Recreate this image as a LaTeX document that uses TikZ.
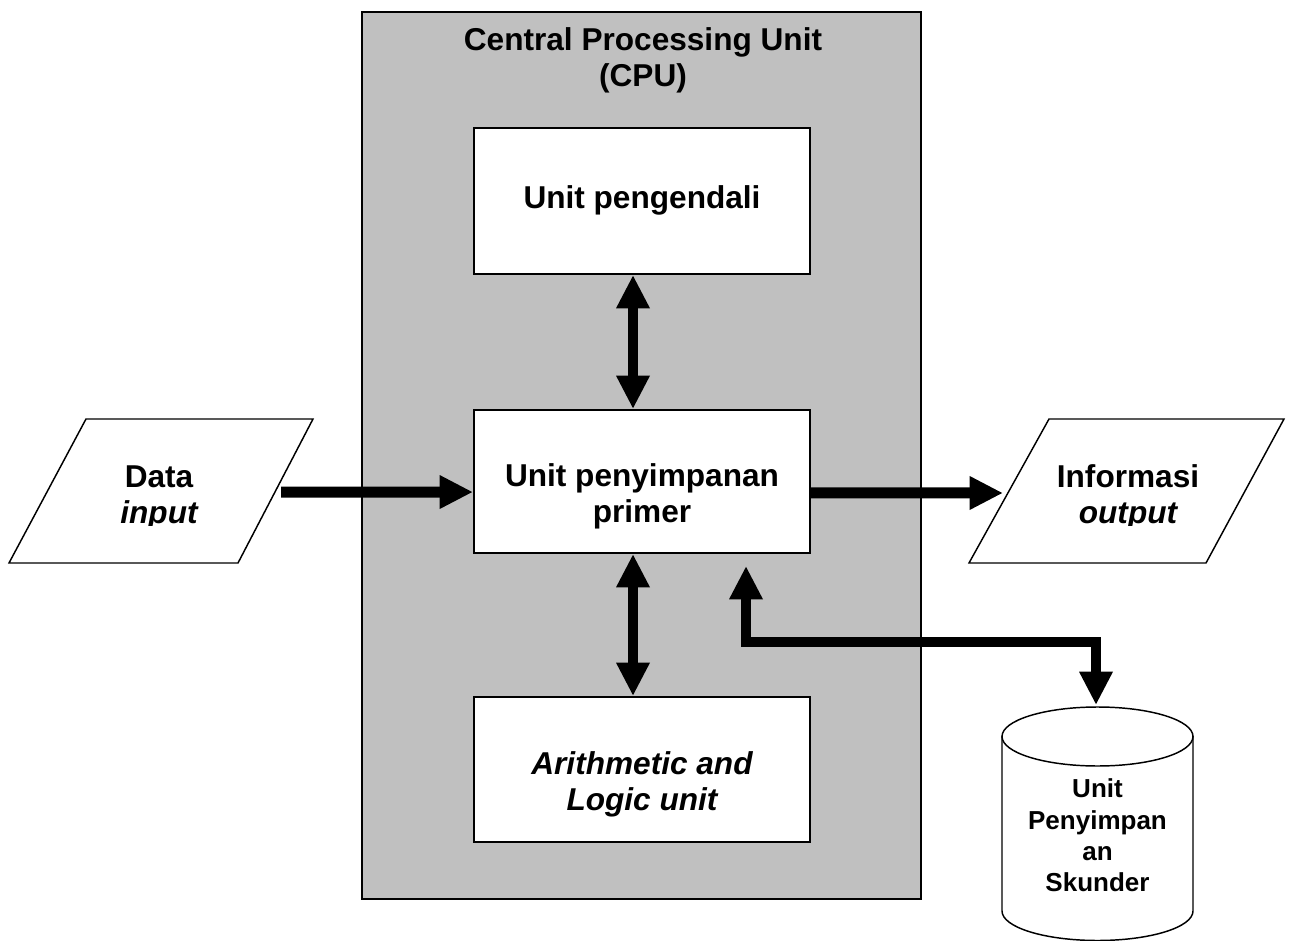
\documentclass[tikz,border=0pt]{standalone}
\usepackage{fontspec}
\setmainfont{Liberation Sans}
\usetikzlibrary{arrows.meta}
\definecolor{cpugray}{HTML}{C0C0C0}
\tikzset{
  px/.style={x=0.75pt, y=-0.75pt},
  cpubox/.style={draw=black, line width=1.5pt, fill=cpugray},
  unitbox/.style={draw=black, line width=1.5pt, fill=white, minimum width=252pt, inner sep=0pt},
  iobox/.style={draw=black, line width=1.1pt, fill=white, line join=miter},
  lbl/.style={font=\fontsize{23.7pt}{27pt}\selectfont\bfseries, align=center, inner sep=0pt},
  disklbl/.style={font=\fontsize{19.5pt}{23.5pt}\selectfont\bfseries, align=center, inner sep=0pt},
  tip/.tip={Triangle[length=25pt, width=23.5pt]},
  vflow/.style={line width=7.5pt, line join=miter},
  hflow/.style={line width=8.25pt, -tip},
}
\begin{document}
\begin{tikzpicture}[px]
\useasboundingbox (0,0) rectangle (1289,941);

% CPU housing
\draw[cpubox] (362,12) rectangle (921,899);
\node[lbl] (cputitle) at (643,60.2) {Central Processing Unit\\(CPU)};

% units inside the CPU
\node[unitbox, minimum height=109.5pt] (ctrl) at (642,201) {};
\node[lbl] (ctrltext) at (642,200) {Unit pengendali};

\node[unitbox, minimum height=107.25pt] (mem) at (642,481.5) {};
\node[lbl] (memtext) at (642,496.7) {Unit penyimpanan\\primer};

\node[unitbox, minimum height=108.75pt] (alu) at (642,769.5) {};
\node[lbl, font=\fontsize{23.7pt}{27pt}\selectfont\bfseries\itshape] (alutext) at (642,784.7) {Arithmetic and\\Logic unit};

% input and output parallelograms
\draw[iobox] (86,419) -- (313,419) -- (238,563) -- (9,563) -- cycle;
\coordinate (inR) at (281,492);
\draw[iobox] (1049,419) -- (1284,419) -- (1206,563) -- (969,563) -- cycle;
\coordinate (outL) at (1003,493);
\begin{scope}
  \clip (0,0) rectangle (1289,525);
  \node[lbl] (intext) at (159,498) {Data\\\itshape input};
  \node[lbl] (outtext) at (1128,497) {Informasi\\\itshape output};
\end{scope}

% secondary storage
\filldraw[draw=black, fill=white, line width=1.1pt]
  (1002,736.5) -- (1002,911)
  arc[start angle=180, end angle=360, x radius=71.625pt, y radius=22.125pt]
  -- (1193,736.5) -- cycle;
\draw[draw=black, fill=white, line width=1.1pt]
  (1097.5,736.5) ellipse[x radius=71.625pt, y radius=22.125pt];
\coordinate (disktop) at (1096,705);
\coordinate (bend) at (1096,642);
\node[disklbl] (disktext) at (1097.5,835.5) {Unit\\Penyimpan\\an\\Skunder};

% data flow
\draw[vflow, tip-tip] ([xshift=-6.75pt]ctrl.south) -- ([xshift=-6.75pt]mem.north);
\draw[vflow, tip-tip] ([xshift=-6.75pt]mem.south) -- ([xshift=-6.75pt]alu.north);
\draw[hflow] (inR) -- ([yshift=-7.9pt]mem.west);
\draw[hflow] ([yshift=-8.6pt]mem.east) -- (outL);
\draw[vflow, tip-tip] ([xshift=78pt, yshift=-9pt]mem.south) |- (bend) -- (disktop);
\end{tikzpicture}
\end{document}
